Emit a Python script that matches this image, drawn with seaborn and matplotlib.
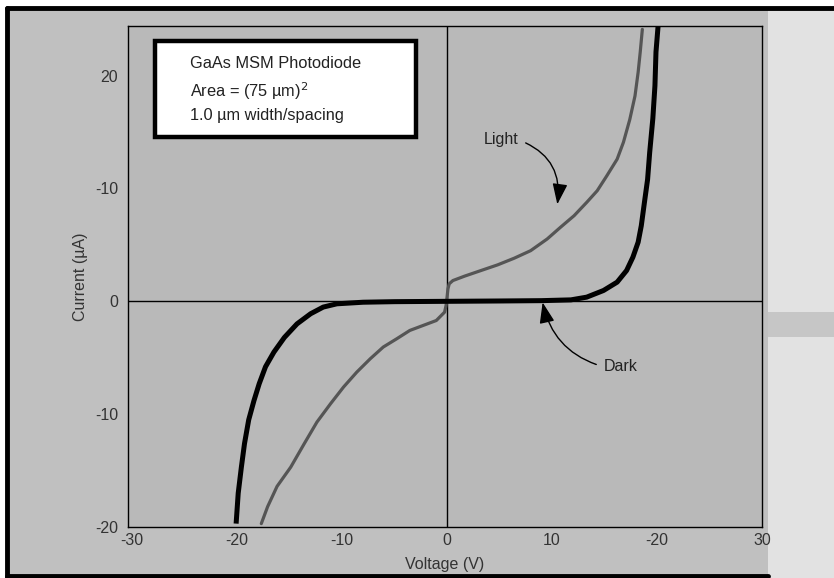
import pandas as pd
import seaborn as sns
import matplotlib.pyplot as plt
from matplotlib.patches import Rectangle
from matplotlib.lines import Line2D

# Dark current curve (V, uA)
dark_v = [-20.1, -19.9, -19.6, -19.3, -18.9, -18.4, -17.9, -17.3, -16.5, -15.5, -14.3,
          -13.0, -11.8, -10.5, -8.0, -5.0, 0.0, 5.0, 9.0, 11.8, 13.3, 14.9, 16.2, 17.1,
          17.7, 18.2, 18.5, 18.8, 19.1, 19.3, 19.6, 19.8, 19.9, 20.1]
dark_i = [-19.7, -17.0, -14.7, -12.6, -10.5, -8.8, -7.3, -5.8, -4.5, -3.2, -2.0,
          -1.1, -0.51, -0.22, -0.08, -0.03, 0.0, 0.03, 0.06, 0.13, 0.37, 0.96, 1.7, 2.73,
          3.91, 5.24, 6.7, 8.77, 10.8, 13.2, 16.2, 19.1, 22.1, 24.4]

# Photocurrent curve (V, uA)
light_v = [-17.7, -17.1, -16.2, -14.9, -13.6, -12.4, -11.1, -9.86, -8.6, -7.32, -6.08,
           -4.8, -3.55, -2.29, -1.03, -0.24, -0.1, 0.0, 0.08, 0.2, 0.55, 1.66, 3.23,
           4.81, 6.39, 7.96, 9.54, 10.8, 12.1, 13.3, 14.3, 15.2, 16.2, 16.8, 17.4, 17.9,
           18.2, 18.4, 18.6]
light_i = [-19.7, -18.2, -16.4, -14.7, -12.6, -10.7, -9.07, -7.59, -6.27, -5.09, -4.05,
           -3.32, -2.58, -2.14, -1.7, -0.96, -0.37, 0.4, 1.1, 1.55, 1.84, 2.23, 2.73,
           3.23, 3.82, 4.49, 5.53, 6.56, 7.59, 8.77, 9.8, 11.1, 12.6, 14.1, 16.1, 18.2,
           20.3, 22.1, 24.1]

x_ticks = [-30, -20, -10, 0, 10, 20, 30]
x_tick_labels = ['-30', '-20', '-10', '0', '10', '-20', '30']
y_ticks = [-20, -10, 0, 10, 20]
y_tick_labels = ['-20', '-10', '0', '-10', '20']

dark = pd.DataFrame({'Voltage': dark_v, 'Current': dark_i})
light = pd.DataFrame({'Voltage': light_v, 'Current': light_i})

sns.set_style('white')
plt.rcParams['font.family'] = ['Liberation Sans', 'DejaVu Sans']

fig = plt.figure(figsize=(8.34, 5.78), dpi=100, facecolor='white')
W, H = 834, 578

# scanned page background and outer frame
fig.patches.append(Rectangle((7 / W, 0), 1, 570 / H, transform=fig.transFigure,
                             facecolor='#c0c0c0', edgecolor='none', zorder=-2))
fig.patches.append(Rectangle((768 / W, 0), 1, 570 / H, transform=fig.transFigure,
                             facecolor='#e2e2e2', edgecolor='none', zorder=-2))
fig.patches.append(Rectangle((768 / W, 241 / H), 1, 25 / H, transform=fig.transFigure,
                             facecolor='#c6c6c6', edgecolor='none', zorder=-2))
fig.lines.append(Line2D([7 / W, 1], [570 / H, 570 / H], transform=fig.transFigure,
                        color='black', lw=3.5))
fig.lines.append(Line2D([7 / W, 7 / W], [0, 570 / H], transform=fig.transFigure,
                        color='black', lw=3.5))
fig.lines.append(Line2D([7 / W, 768 / W], [2 / H, 2 / H], transform=fig.transFigure,
                        color='black', lw=3.5))

ax = fig.add_axes([128 / W, 51 / H, 634 / W, 501 / H])
ax.set_facecolor('#b9b9b9')

ax.axhline(0, color='black', lw=1, zorder=1)
ax.axvline(0, color='black', lw=1, zorder=1)

sns.lineplot(data=light, x='Voltage', y='Current', sort=False, estimator=None,
             color='#555555', lw=2.3, ax=ax, zorder=3,
             solid_joinstyle='round', solid_capstyle='round')
sns.lineplot(data=dark, x='Voltage', y='Current', sort=False, estimator=None,
             color='black', lw=3.6, ax=ax, zorder=4,
             solid_joinstyle='round', solid_capstyle='butt')

ax.set_xlim(-30.4, 29.6)
ax.set_ylim(-19.9, 24.4)
ax.set_xticks(x_ticks)
ax.set_xticklabels(x_tick_labels)
ax.set_yticks(y_ticks)
ax.set_yticklabels(y_tick_labels)
ax.tick_params(axis='x', direction='in', length=6.5, width=0.8, pad=4,
               labelsize=11.5, labelcolor='#333333')
ax.tick_params(axis='y', direction='in', length=10, width=0.8, pad=7,
               labelsize=11.5, labelcolor='#333333')
for s in ax.spines.values():
    s.set_color('black')
    s.set_linewidth(1)

ax.set_xlabel('Voltage (V)', fontsize=11.5, color='#333333', labelpad=7)
ax.set_ylabel('Current (\u00b5A)', fontsize=11.5, color='#333333', labelpad=5)

# info box
ax.add_patch(Rectangle((-27.8, 14.6), 24.85, 8.5, facecolor='white', edgecolor='black',
                       lw=3.2, zorder=5))
ax.text(-24.5, 21.7, 'GaAs MSM Photodiode\nArea = (75 \u00b5m)$^2$\n1.0 \u00b5m width/spacing',
        fontsize=11.8, color='#222222', va='top', ha='left', linespacing=1.5, zorder=6)

# curve labels
ax.annotate('Light', xy=(10.5, 8.6), xytext=(3.5, 14.3), fontsize=11.5, color='#222222',
            ha='left', va='center', zorder=6,
            arrowprops=dict(arrowstyle='-|>,head_length=1.1,head_width=0.4', color='black',
                            lw=1, relpos=(1, 0.5), shrinkA=3, shrinkB=0,
                            connectionstyle='arc3,rad=-0.4'))
ax.annotate('Dark', xy=(9.1, -0.1), xytext=(14.9, -5.8), fontsize=11.5, color='#222222',
            ha='left', va='center', zorder=6,
            arrowprops=dict(arrowstyle='-|>,head_length=1.1,head_width=0.4', color='black',
                            lw=1, relpos=(0, 0.5), shrinkA=3, shrinkB=0,
                            connectionstyle='arc3,rad=-0.3'))

fig.savefig('out.png', dpi=100, facecolor=fig.get_facecolor())
